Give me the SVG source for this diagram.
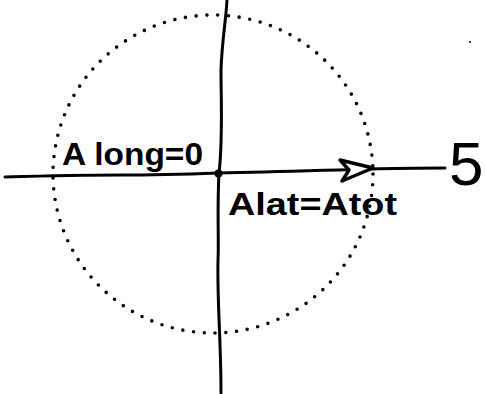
<svg xmlns="http://www.w3.org/2000/svg" width="485" height="394" viewBox="0 0 485 394">
<style>
.ln{fill:none;stroke:#000;stroke-width:3;stroke-linecap:round;stroke-linejoin:round}
.dots{fill:none;stroke:#000;stroke-width:3.6;stroke-linecap:round;stroke-dasharray:0 10.8}
.lbl{font-family:"Liberation Sans",Arial,sans-serif;font-weight:bold;font-size:32px;fill:#000}
.num{font-family:"Liberation Sans",Arial,sans-serif;font-weight:normal;font-size:62px;fill:#000}
</style>
<rect width="485" height="394" fill="#fff"/>
<g id="circle">
<ellipse class="dots" cx="213" cy="174" rx="160" ry="159"/>
</g>
<g id="connectors">
<path id="v-axis" class="ln" d="M227,0 C226,20 222,40 221,70 C221,100 223,140 219,173 C217,210 219,240 218,260 C217,300 221,340 221,393"/>
<path id="h-axis" class="ln" d="M5,177 C40,176 80,175 120,175 C160,175 190,174 218,173 C280,172 330,170 372,169 C400,168 420,168 445,168"/>
<path id="arrowhead" class="ln" d="M340,160 L373,168 L342,181 L349,170 Z" style="fill:#fff;stroke-width:3.4"/>
<circle cx="218.5" cy="173.5" r="4" fill="#000"/>
</g>
<g id="label-along">
<text class="lbl" x="62" y="165" textLength="141" lengthAdjust="spacingAndGlyphs">A long=0</text>
</g>
<g id="label-alat">
<text class="lbl" x="228" y="215" textLength="169" lengthAdjust="spacingAndGlyphs">Alat=Atot</text>
</g>
<g id="label-5">
<text class="num" x="449" y="185">5</text>
</g>
<circle cx="470" cy="42" r="1" fill="#000"/>
</svg>
